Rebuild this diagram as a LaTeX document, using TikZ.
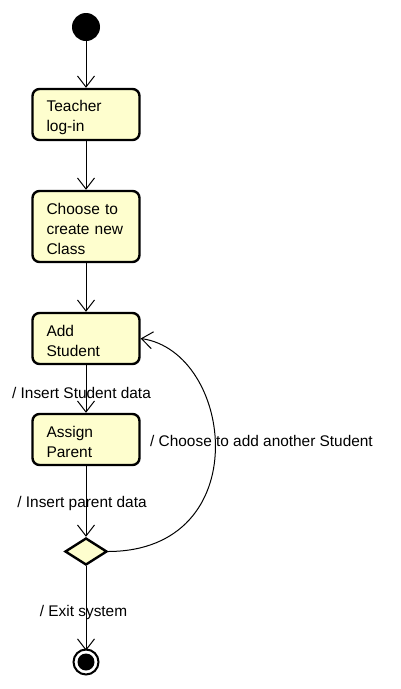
\documentclass[tikz,border=0pt]{standalone}
\usepackage{fontspec}
\setmainfont{Liberation Sans}
\usetikzlibrary{arrows.meta,shapes.geometric}

\definecolor{actfill}{HTML}{FEFECE}

\tikzset{
  act/.style={draw=black, line width=2.4pt, fill=actfill, rounded corners=7pt,
    minimum width=107pt, text width=79pt, inner xsep=14pt, align=left,
    font=\fontsize{15.5}{20}\selectfont, execute at begin node={\rule{0pt}{17pt}}},
  flow/.style={line width=1pt, -{Straight Barb[length=11pt,width=17pt,line width=1pt]}},
  lbl/.style={font=\fontsize{15.4}{18}\selectfont, inner sep=0pt}
}

\begin{document}
\begin{tikzpicture}[x=1pt,y=-1pt]
      \useasboundingbox (0,0) rectangle (400,689);
      \fill (86,27) circle (14pt) coordinate (start);
      \node[act, minimum height=51pt] (login) at (86,114.5) {Teacher\\log-in};
      \node[act, minimum height=71pt] (newclass) at (86,226.5) {Choose to\\create new\\Class};
      \node[act, minimum height=51pt] (addstud) at (86,338.5) {Add\\Student};
      \node[act, minimum height=51pt] (assign) at (86,439.5) {Assign\\Parent};
      \node[diamond, draw=black, line width=2.4pt, fill=actfill, inner sep=0pt,
            minimum width=42pt, minimum height=27pt] (choice) at (86,551.5) {};
      \coordinate (stop) at (86,662);
      \draw[line width=2pt] (stop) circle (12.5pt);
      \fill (stop) circle (8.5pt);
      \draw[flow] (start) ++(0,14) -- (login.north);
      \draw[flow] (login) -- (newclass);
      \draw[flow] (newclass) -- (addstud);
      \draw[flow] (addstud) -- (assign) node[lbl, pos=.55, xshift=-4.5pt, yshift=-2pt] {/ Insert Student data};
      \draw[flow] (assign.south) -- (choice.north) node[lbl, pos=.5, xshift=-4pt, yshift=-2pt] {/ Insert parent data};
      \draw[flow] (choice.south) -- ++(0,84.5) coordinate (stoptop) node[lbl, pos=.55, xshift=-2.5pt] {/ Exit system};
      \draw[flow] (choice.east) .. controls (257,551) and (234,352) .. (addstud.east);
      \node[lbl, anchor=west] (again) at (150,441) {/ Choose to add another Student};
\end{tikzpicture}
\end{document}
